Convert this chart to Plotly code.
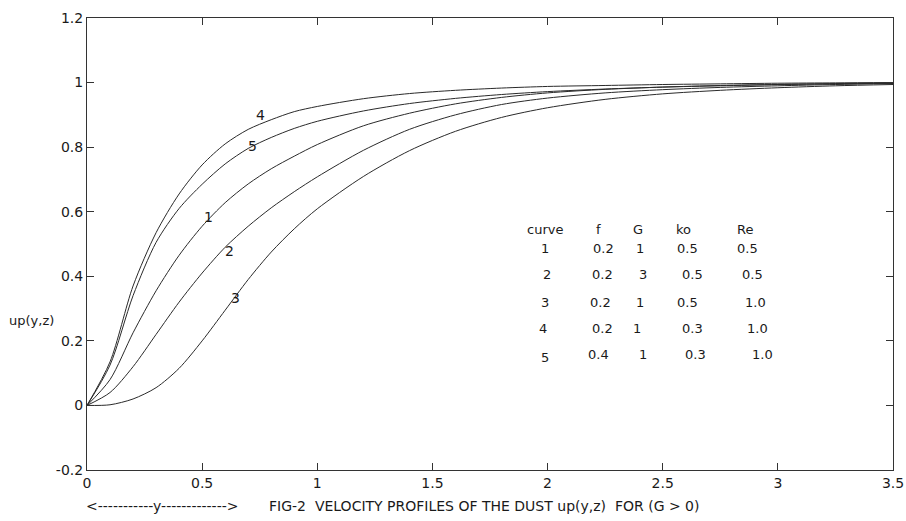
import plotly.graph_objects as go

# ---- data ----
y_grid = [0, 0.1, 0.2, 0.3, 0.4, 0.5, 0.6, 0.7, 0.8, 0.9, 1.0, 1.2, 1.4, 1.6, 1.8,
          2.0, 2.25, 2.5, 2.75, 3.0, 3.25, 3.5]
up_curve1 = [0, 0.08, 0.225, 0.355, 0.465, 0.555, 0.628, 0.686, 0.733, 0.772, 0.808, 0.866,
             0.905, 0.934, 0.954, 0.968, 0.979, 0.986, 0.991, 0.994, 0.996, 0.998]
up_curve2 = [0, 0.04, 0.12, 0.22, 0.32, 0.41, 0.49, 0.555, 0.612, 0.662, 0.708, 0.79,
             0.855, 0.90, 0.932, 0.952, 0.968, 0.978, 0.985, 0.99, 0.994, 0.997]
up_curve3 = [0, 0.002, 0.02, 0.055, 0.115, 0.2, 0.295, 0.39, 0.475, 0.547, 0.609, 0.709,
             0.789, 0.849, 0.892, 0.922, 0.948, 0.965, 0.976, 0.984, 0.99, 0.994]
up_curve4 = [0, 0.135, 0.37, 0.535, 0.655, 0.745, 0.81, 0.855, 0.885, 0.91, 0.926, 0.95,
             0.966, 0.976, 0.983, 0.988, 0.991, 0.994, 0.996, 0.998, 0.999, 1.0]
up_curve5 = [0, 0.125, 0.34, 0.505, 0.61, 0.685, 0.748, 0.796, 0.830, 0.858, 0.880, 0.912,
             0.935, 0.951, 0.963, 0.972, 0.98, 0.986, 0.99, 0.994, 0.997, 0.999]

curve_names = ['1', '2', '3', '4', '5']
f_vals = ['0.2', '0.2', '0.2', '0.2', '0.4']
G_vals = ['1', '3', '1', '1', '1']
ko_vals = ['0.5', '0.5', '0.5', '0.3', '0.3']
Re_vals = ['0.5', '0.5', '1.0', '1.0', '1.0']
table_header = ['curve', 'f', 'G', 'ko', 'Re']

x_ticks = [0, 0.5, 1, 1.5, 2, 2.5, 3, 3.5]
x_ticktext = ['0', '0.5', '1', '1.5', '2', '2.5', '3', '3.5']
y_ticks = [-0.2, 0, 0.2, 0.4, 0.6, 0.8, 1.0, 1.2]
y_ticktext = ['-0.2', '0', '0.2', '0.4', '0.6', '0.8', '1', '1.2']

# ---- layout constants ----
W, H = 906, 521
L, R, T, B = 87, 13, 18, 51
PW, PH = W - L - R, H - T - B
FONT = 'DejaVu Sans'
TXT = '#1a1a1a'
LINE = '#2a2a2a'


def px(xp):
    return (xp - L) / PW


def py(yp):
    return (H - B - yp) / PH


fig = go.Figure()
for ys in [up_curve1, up_curve2, up_curve3, up_curve4, up_curve5]:
    fig.add_trace(go.Scatter(x=y_grid, y=ys, mode='lines',
                             line=dict(color=LINE, width=1, shape='spline', smoothing=0.8),
                             showlegend=False, hoverinfo='skip'))

ann = []
# curve labels (data coords)
label_pos = {'4': (0.752, 0.90), '5': (0.72, 0.805), '1': (0.526, 0.585),
             '2': (0.617, 0.477), '3': (0.643, 0.334)}
for k, (lx, ly) in label_pos.items():
    ann.append(dict(x=lx, y=ly, xref='x', yref='y', text=k, showarrow=False,
                    xanchor='center', yanchor='middle',
                    font=dict(family=FONT, size=14, color=TXT)))

# parameter table (pixel positions)
head_x = [545, 598, 638, 683, 745]
head_y = 229
for t, hx in zip(table_header, head_x):
    ann.append(dict(x=px(hx), y=py(head_y), xref='paper', yref='paper', text=t,
                    xanchor='center', yanchor='middle',
                    showarrow=False, font=dict(family=FONT, size=13, color=TXT)))
row_y = [248, 274, 302, 328, 354]
row_x = [[545, 603, 640, 687, 747],
         [547, 602, 643, 692, 752],
         [545, 600, 640, 687, 755],
         [543, 602, 637, 692, 757],
         [545, 598, 643, 695, 762]]
for i in range(5):
    vals = [curve_names[i], f_vals[i], G_vals[i], ko_vals[i], Re_vals[i]]
    for j, (v, rx) in enumerate(zip(vals, row_x[i])):
        yy = row_y[i] + (3 if (i == 4 and j == 0) else 0)
        ann.append(dict(x=px(rx), y=py(yy), xref='paper', yref='paper', text=v,
                        xanchor='center', yanchor='middle',
                        showarrow=False, font=dict(family=FONT, size=13, color=TXT)))

# y label
ann.append(dict(x=px(7), y=py(320), xref='paper', yref='paper', text='up(y,z)',
                xanchor='left', yanchor='middle', showarrow=False,
                font=dict(family=FONT, size=13, color=TXT)))
# bottom captions
ann.append(dict(x=px(84), y=py(506), xref='paper', yref='paper',
                text='&lt;-----------y-------------&gt;', xanchor='left', yanchor='middle',
                showarrow=False, font=dict(family=FONT, size=14, color=TXT)))
ann.append(dict(x=px(267), y=py(506), xref='paper', yref='paper',
                text='FIG-2  VELOCITY PROFILES OF THE DUST up(y,z)  FOR (G &gt; 0)',
                xanchor='left', yanchor='middle', showarrow=False,
                font=dict(family=FONT, size=14, color=TXT)))

axis_common = dict(showline=True, linecolor='#333', linewidth=1, mirror='ticks',
                   ticks='inside', ticklen=7, tickcolor='#333', showgrid=False,
                   zeroline=False, tickfont=dict(family=FONT, size=14, color=TXT))
fig.update_layout(
    width=W, height=H, margin=dict(l=L, r=R, t=T, b=B, autoexpand=False),
    paper_bgcolor='white', plot_bgcolor='white', annotations=ann,
    xaxis=dict(range=[0, 3.5], tickvals=x_ticks, ticktext=x_ticktext, **axis_common),
    yaxis=dict(range=[-0.2, 1.2], tickvals=y_ticks, ticktext=y_ticktext, **axis_common),
)
fig.write_html('out.html', config={'displayModeBar': False},
               post_script="document.body.style.margin='0';")
